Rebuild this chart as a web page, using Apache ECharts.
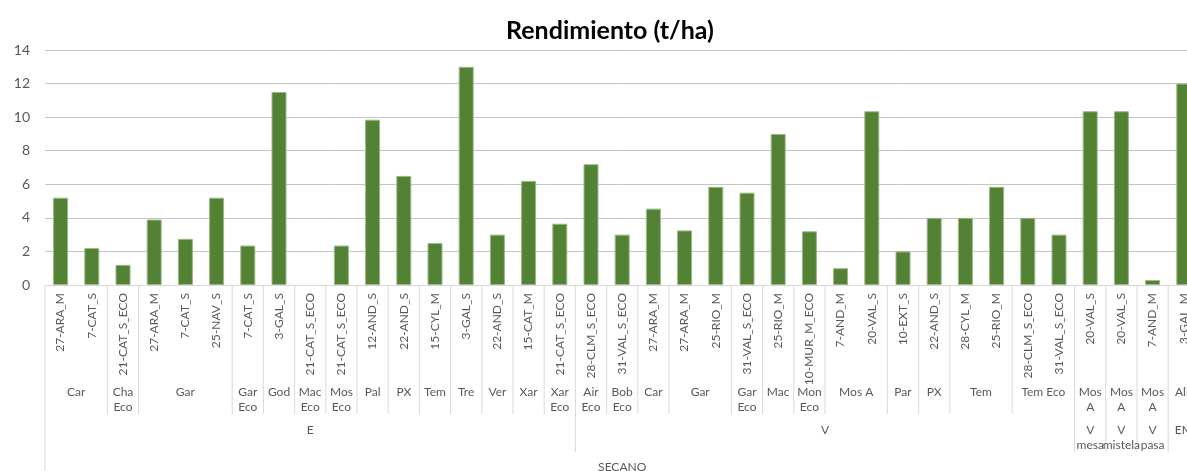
<!DOCTYPE html>
<html>
<head>
<meta charset="utf-8">
<script src="https://cdn.jsdelivr.net/npm/echarts@6/dist/echarts.min.js"></script>
<style>
  html, body { margin: 0; padding: 0; background: #fff; }
  #chart { width: 1187px; height: 471px; }
</style>
</head>
<body>
<div id="chart"></div>
<script>
// nivel 1: parcelas
const categories = [
  "27-ARA_M", "7-CAT_S", "21-CAT_S_ECO", "27-ARA_M", "7-CAT_S", "25-NAV_S", "7-CAT_S", "3-GAL_S",
  "21-CAT_S_ECO", "21-CAT_S_ECO", "12-AND_S", "22-AND_S", "15-CYL_M", "3-GAL_S", "22-AND_S", "15-CAT_M",
  "21-CAT_S_ECO", "28-CLM_S_ECO", "31-VAL_S_ECO", "27-ARA_M", "27-ARA_M", "25-RIO_M", "31-VAL_S_ECO",
  "25-RIO_M", "10-MUR_M_ECO", "7-AND_M", "20-VAL_S", "10-EXT_S", "22-AND_S", "28-CYL_M", "25-RIO_M",
  "28-CLM_S_ECO", "31-VAL_S_ECO", "20-VAL_S", "20-VAL_S", "7-AND_M", "3-GAL_M"
];
// la celda vacía (Mac Eco) va como null
const rendimiento = [
  5.2, 2.2, 1.2, 3.9, 2.75, 5.2, 2.35, 11.5,
  null, 2.35, 9.85, 6.5, 2.5, 13.0, 3.0, 6.2,
  3.65, 7.2, 3.0, 4.55, 3.25, 5.85, 5.5,
  9.0, 3.2, 1.0, 10.35, 2.0, 4.0, 4.0, 5.85,
  4.0, 3.0, 10.35, 10.35, 0.3, 12.0
];
// nivel 2: variedad [etiqueta, nº de categorías]
const level2 = [
  ["Car", 2], ["Cha\nEco", 1], ["Gar", 3], ["Gar\nEco", 1], ["God", 1], ["Mac\nEco", 1], ["Mos\nEco", 1],
  ["Pal", 1], ["PX", 1], ["Tem", 1], ["Tre", 1], ["Ver", 1], ["Xar", 1], ["Xar\nEco", 1],
  ["Air\nEco", 1], ["Bob\nEco", 1], ["Car", 1], ["Gar", 2], ["Gar\nEco", 1], ["Mac", 1], ["Mon\nEco", 1],
  ["Mos A", 2], ["Par", 1], ["PX", 1], ["Tem", 2], ["Tem Eco", 2],
  ["Mos\nA", 1], ["Mos\nA", 1], ["Mos\nA", 1], ["Alb", 1]
];
// nivel 3: tipo de vino
const level3 = [["E", 17], ["V", 16], ["V\nmesa", 1], ["V\nmistela", 1], ["V\npasa", 1], ["EM", 1]];
// nivel 4: manejo
const level4 = [["SECANO", 37]];

const textColor = "#595959";
const lineColor = "#d9d9d9";
const font = "Lato, 'Liberation Sans', sans-serif";

const chart = echarts.init(document.getElementById("chart"));
chart.setOption({
  animation: false,
  title: {
    text: "Rendimiento (t/ha)",
    left: 605,
    top: 13,
    textAlign: "center",
    textStyle: { fontFamily: font, fontSize: 25, fontWeight: "bold", color: "#000" },
  },
  grid: {
    left: 45,
    top: 50,
    width: 37 * 31.2,
    height: 235,
    containLabel: false,
    outerBoundsMode: "none",
  },
  xAxis: {
    type: "category",
    data: categories,
    axisLine: { lineStyle: { color: lineColor } },
    axisTick: { show: false },
    axisLabel: {
      interval: 0,
      rotate: 90,
      margin: 8,
      fontFamily: font,
      fontSize: 12,
      color: textColor,
    },
  },
  yAxis: {
    type: "value",
    min: 0,
    max: 14,
    interval: 2,
    axisLine: { show: false },
    axisTick: { show: false },
    splitLine: { lineStyle: { color: "#c4c4c4" } },
    axisLabel: { margin: 15, fontFamily: font, fontSize: 14, color: textColor },
  },
  series: [
    {
      type: "bar",
      data: rendimiento,
      barWidth: 15,
      itemStyle: { color: "#548235", borderColor: "#9ab888", borderWidth: 1 },
    },
  ],
});

// ejes multinivel: posiciones calculadas desde la escala del eje
function drawLevels() {
  const c0 = chart.convertToPixel({ xAxisIndex: 0 }, 0);
  const c1 = chart.convertToPixel({ xAxisIndex: 0 }, 1);
  const band = c1 - c0;
  const edge = (k) => c0 - band / 2 + k * band;
  const y0 = chart.convertToPixel({ yAxisIndex: 0 }, 0);
  const els = [];

  const l3bounds = new Set();
  let k = 0;
  level3.forEach(([, n]) => { k += n; l3bounds.add(k); });

  const addLabels = (groups, top, lineH, stopY) => {
    let start = 0;
    groups.forEach(([label, n]) => {
      const end = start + n;
      els.push({
        type: "text",
        style: {
          text: label,
          x: (edge(start) + edge(end)) / 2,
          y: top,
          align: "center",
          verticalAlign: "top",
          lineHeight: lineH,
          fill: textColor,
          font: "12px " + font,
        },
      });
      if (stopY != null) {
        const len = l3bounds.has(end) ? 167 : stopY;
        els.push({
          type: "line",
          shape: { x1: edge(end), y1: y0, x2: edge(end), y2: y0 + len },
          style: { stroke: lineColor, lineWidth: 1 },
        });
      }
      start = end;
    });
  };
  addLabels(level2, y0 + 100, 14.5, 129);
  addLabels(level3, y0 + 138, 14.5, null);
  addLabels(level4, y0 + 175, 14.5, null);
  els.push({
    type: "line",
    shape: { x1: edge(0), y1: y0, x2: edge(0), y2: 471 },
    style: { stroke: lineColor, lineWidth: 1 },
  });
  chart.setOption({ graphic: els });
}
drawLevels();
</script>
</body>
</html>
